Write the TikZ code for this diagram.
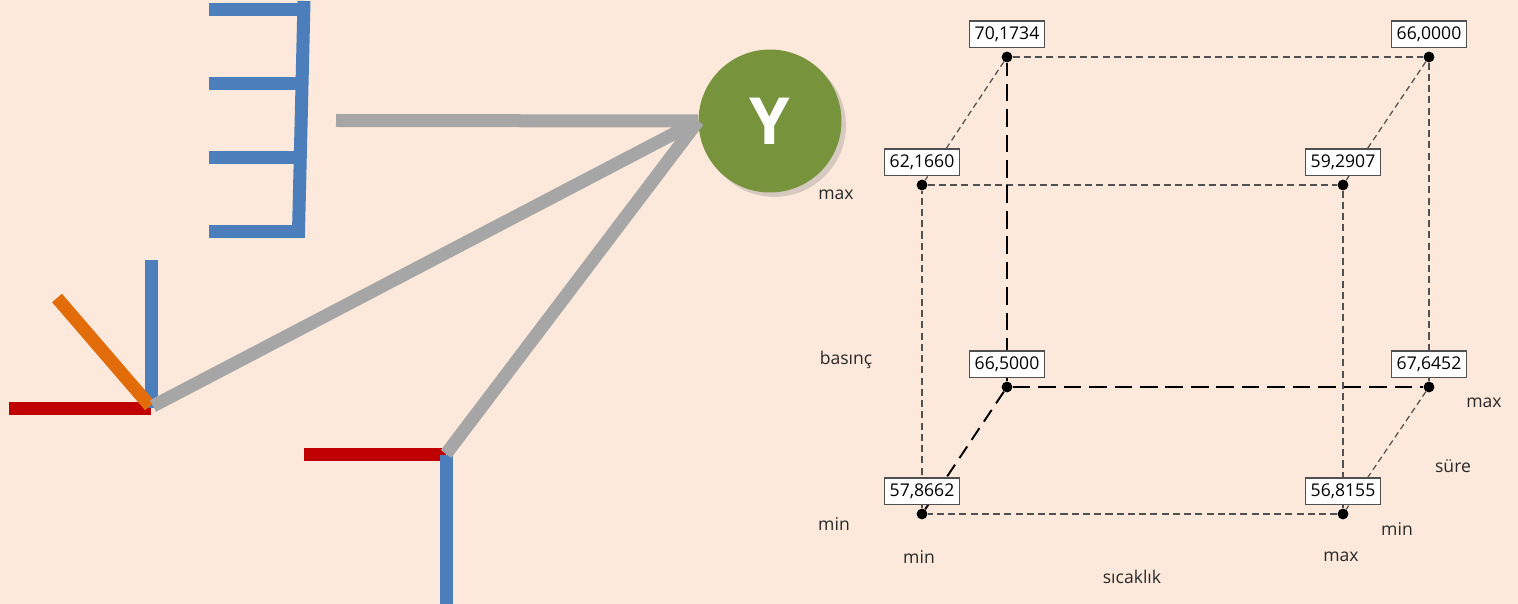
\documentclass[tikz,border=0pt]{standalone}
\usepackage{fontspec}
\setmainfont{Open Sans}
\usetikzlibrary{positioning,shadows}

\definecolor{bgpeach}{RGB}{252,233,219}
\definecolor{barblue}{RGB}{76,126,187}
\definecolor{barred}{RGB}{192,0,0}
\definecolor{barorange}{RGB}{227,108,10}
\definecolor{linkgray}{RGB}{166,166,166}
\definecolor{ygreen}{RGB}{119,147,60}
\definecolor{edgegray}{RGB}{80,80,80}
\definecolor{labelgray}{RGB}{40,40,40}

\begin{document}
\begin{tikzpicture}[
    x=0.02cm,
    y=-0.02cm,
    bar/.style={
        line width=7.4pt
    },
    link/.style={
        line width=7.4pt,
        linkgray
    },
    ynode/.style={
        circle,
        fill=ygreen,
        minimum size=2.86cm,
        inner sep=0pt,
        text=white,
        font=\fontsize{37}{40}\selectfont\bfseries,
        drop shadow={shadow xshift=2.5pt, shadow yshift=-2.5pt, opacity=0.3}
    },
    edge/.style={
        edgegray,
        line width=1.3pt,
        dash pattern=on 4pt off 2.4pt
    },
    thinedge/.style={
        edgegray,
        line width=0.7pt,
        dash pattern=on 3.4pt off 2.2pt
    },
    hiddenedge/.style={
        black,
        line width=1.5pt,
        dash pattern=on 10pt off 4.5pt
    },
    diagedge/.style={
        black,
        line width=1.1pt,
        dash pattern=on 8pt off 4.5pt
    },
    dot/.style={
        circle,
        fill=black,
        inner sep=0pt,
        minimum size=6pt
    },
    valbox/.style={
        draw=edgegray,
        fill=white,
        line width=0.6pt,
        inner xsep=3pt,
        inner ysep=1.5pt,
        minimum height=15pt,
        font=\fontsize{10}{12}\selectfont
    },
    axis/.style={
        text=labelgray,
        font=\fontsize{10}{12}\selectfont
    }
]

% =================================================
% Background
% =================================================

\useasboundingbox[fill=bgpeach] (0,0) rectangle (1518,604);

% =================================================
% Response node
% =================================================

\node[ynode] (Y) at (770,121) {Y};

% =================================================
% Factor symbols
% =================================================

% comb
\draw[bar, barblue] (209,9.5)  -- (304,9.5);
\draw[bar, barblue] (209,83.5) -- (302,83.5);
\draw[bar, barblue] (209,158)  -- (300,158);
\draw[bar, barblue] (209,232)  -- (305,232);
\draw[bar, barblue] (304,1) -- (298.5,232);
\coordinate (jComb) at (336,120.5);

% corner with diagonal
\draw[bar, barred]    (9,408.5)  -- (151,408.5);
\draw[bar, barblue]   (151,260)  -- (151,408);
\draw[bar, barorange] (57,298)   -- (150,406);
\coordinate (jCorner) at (153,406);

% corner pointing down
\draw[bar, barred]  (304,454.5) -- (446,454.5);
\draw[bar, barblue] (446.5,455) -- (446.5,604);
\coordinate (jDown) at (446,454);

% =================================================
% Links to Y
% =================================================

\draw[link] (jComb)   -- (Y.west);
\draw[link] (jCorner) -- (Y.west);
\draw[link] (jDown)   -- (Y.west);

% =================================================
% Cube corners
% =================================================

\node[dot] (bTL) at (1007,57)  {};
\node[dot] (bTR) at (1429,57)  {};
\node[dot] (bBL) at (1007,387) {};
\node[dot] (bBR) at (1429,387) {};

\node[dot] (fTL) at (922,185)  {};
\node[dot] (fTR) at (1343,185) {};
\node[dot] (fBL) at (922,514)  {};
\node[dot] (fBR) at (1343,514) {};

% =================================================
% Cube edges
% =================================================

% front face
\draw[edge] (fTL)--(fTR)--(fBR)--(fBL)--(fTL);

% back face
\draw[edge] (bTL)--(bTR)--(bBR);
\draw[hiddenedge] (bBL)--(bTL);
\draw[hiddenedge] (bBL)--(bBR);

% depth edges
\draw[thinedge] (bTL)--(fTL);
\draw[thinedge] (bTR)--(fTR);
\draw[thinedge] (bBR)--(fBR);
\draw[diagedge] (bBL)--(fBL);

% redraw dots on top
\foreach \p in {bTL,bTR,bBL,bBR,fTL,fTR,fBL,fBR}
    \fill (\p) circle (3pt);

% =================================================
% Values
% =================================================

\node[valbox, above=2pt of bTL] (vbTL) {70,1734};
\node[valbox, above=2pt of bTR] (vbTR) {66,0000};
\node[valbox, above=2pt of fTL] (vfTL) {62,1660};
\node[valbox, above=2pt of fTR] (vfTR) {59,2907};
\node[valbox, above=2pt of bBL] (vbBL) {66,5000};
\node[valbox, above=2pt of bBR] (vbBR) {67,6452};
\node[valbox, above=2pt of fBL] (vfBL) {57,8662};
\node[valbox, above=2pt of fBR] (vfBR) {56,8155};

% =================================================
% Axis labels
% =================================================

\node[axis] (pMax)  at (836,195)  {max};
\node[axis] (pName) at (846,360)  {basınç};
\node[axis] (pMin)  at (834,524)  {min};

\node[axis] (tMin)  at (919,557)  {min};
\node[axis] (tName) at (1132,577) {sıcaklık};
\node[axis] (tMax)  at (1341,557) {max};

\node[axis] (sMin)  at (1397,529) {min};
\node[axis] (sName) at (1453,466) {süre};
\node[axis] (sMax)  at (1484,403) {max};

\end{tikzpicture}
\end{document}
